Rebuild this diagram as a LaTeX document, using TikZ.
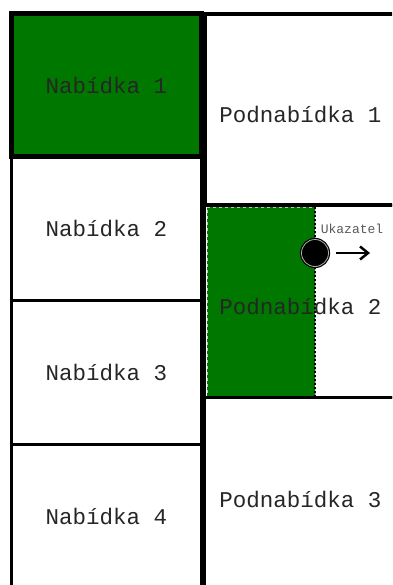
\documentclass[tikz,border=0pt]{standalone}
\usepackage{fontspec}
\newfontfamily\menufont{Liberation Mono}
\usetikzlibrary{arrows.meta,positioning}
\definecolor{menugreen}{RGB}{0,120,0}

\begin{document}
\begin{tikzpicture}[
    x=1pt, y=-1pt,
    >={Straight Barb[length=8pt,width=13pt]},
    font=\menufont\fontsize{22.5}{27}\selectfont,
    text=black!85,
    menucell/.style={draw, line width=3pt, outer sep=0pt, minimum width=190pt, minimum height=144pt, inner sep=0pt},
    menusel/.style={menucell, line width=5pt, fill=menugreen, minimum height=143pt},
    subcell/.style={draw, line width=3pt, outer sep=0pt, minimum width=192pt, minimum height=192pt, inner sep=0pt, text height=27pt, text depth=0pt},
    progress/.style={fill=menugreen, draw=gray!50, dashed, line width=0.5pt, outer sep=0pt, inner sep=0pt, minimum width=108pt, minimum height=189pt},
    pointer/.style={circle, fill=black, draw=black, line width=1.2pt, double=gray!60, double distance=0.8pt, minimum size=27pt, inner sep=0pt},
    tiptext/.style={font=\menufont\fontsize{13}{15}\selectfont, text=black!65}
]
\useasboundingbox (0,0) rectangle (392,585);
\clip (0,0) rectangle (392,585);

% main menu column
\node[menusel, anchor=north west] (n1) at (11.5,14) {Nabídka 1};
\node[menucell, below=0pt of n1, minimum height=143.5pt] (n2) {Nabídka 2};
\node[menucell, below=0pt of n2] (n3) {Nabídka 3};
\node[menucell, below=0pt of n3] (n4) {Nabídka 4};

% submenu column
\node[subcell, line width=4.5pt, right=3pt of n1.north east, anchor=north west, minimum height=191pt] (p1) {Podnabídka 1};
\node[progress, anchor=north west] (bar) at (207,207) {};
\draw[dotted, line width=2pt] (bar.north east) -- (bar.south east);
\node[subcell, below=0pt of p1, minimum height=192.5pt] (p2) {Podnabídka 2};
\node[subcell, below=0pt of p2] (p3) {Podnabídka 3};

% pointer
\node[pointer] (ptr) at (315,253) {};
\node[tiptext] (lbl) at (352,229) {Ukazatel};
\coordinate (ahead) at (370,253);
\draw[->, line width=2.5pt, shorten <=7pt] (ptr.east) -- (ahead);
\end{tikzpicture}
\end{document}
